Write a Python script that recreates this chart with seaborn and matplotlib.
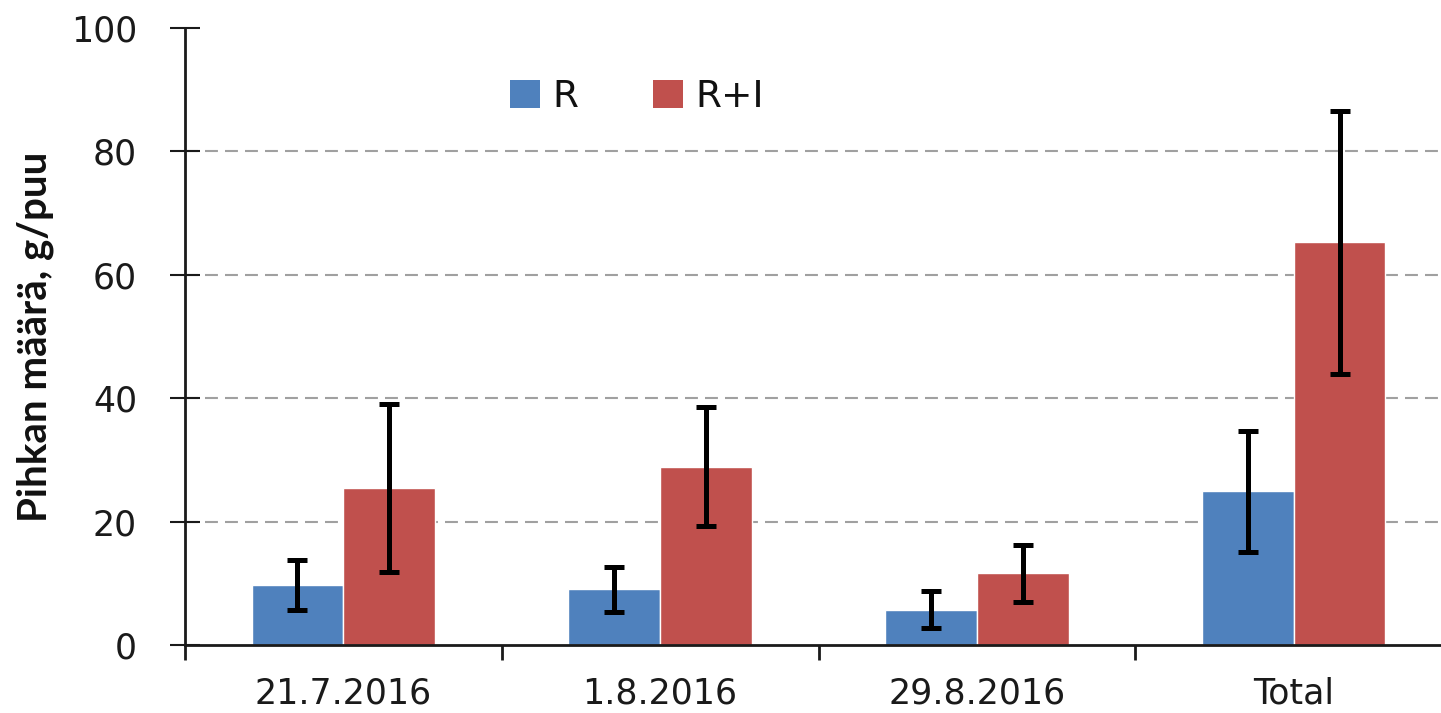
import numpy as np
import pandas as pd
import matplotlib
matplotlib.use("Agg")
import matplotlib.pyplot as plt
import seaborn as sns
from matplotlib.patches import Patch

categories = ["21.7.2016", "1.8.2016", "29.8.2016", "Total"]
series = ["R", "R+I"]
r_values = [9.7, 9.0, 5.7, 24.9]
ri_values = [25.4, 28.9, 11.6, 65.3]
r_err = [4.0, 3.7, 3.0, 9.8]
ri_err = [13.6, 9.6, 4.6, 21.3]
y_ticks = [0, 20, 40, 60, 80, 100]
y_label = "Pihkan määrä, g/puu"
colors = ["#4F81BD", "#C0504D"]

df = pd.DataFrame({
    "cat": categories * 2,
    "series": [series[0]] * 4 + [series[1]] * 4,
    "value": r_values + ri_values,
})

sns.set_style("white")
plt.rcParams["font.family"] = ["DejaVu Sans"]

fig = plt.figure(figsize=(14.41, 7.13), dpi=100)
W, H = 1441, 713
ax = fig.add_axes([185 / W, (H - 645) / H, (1452 - 185) / W, (645 - 28) / H])

sns.barplot(data=df, x="cat", y="value", hue="series", order=categories,
            hue_order=series, palette=colors, width=0.58, errorbar=None,
            saturation=1, ax=ax, legend=False)

errs = [r_err, ri_err]
vals = [r_values, ri_values]
for cont, e, v in zip(ax.containers, errs, vals):
    xs = [b.get_x() + b.get_width() / 2 for b in cont]
    ax.errorbar(xs, v, yerr=e, fmt="none", ecolor="black", elinewidth=3.6,
                capsize=7, capthick=3.6, zorder=5)

ax.set_xlim(-0.5, 3.5)
ax.set_ylim(0, 100)
ax.set_yticks(y_ticks)
ax.set_yticklabels([str(t) for t in y_ticks], fontsize=25, color="#1a1a1a")
for t in y_ticks[1:-1]:
    ax.axhline(t, color="#a0a0a0", linestyle=(0, (6.2, 3.4)), linewidth=1.5, zorder=0)

# group boundary ticks, labels at centers
ax.set_xticks([-0.5, 0.5, 1.5, 2.5, 3.5])
ax.set_xticklabels([])
ax.set_xticks([0, 1, 2, 3], minor=True)
ax.set_xticklabels(categories, minor=True, fontsize=25, color="#1a1a1a")
ax.tick_params(axis="x", which="major", bottom=True, direction="out", length=11,
               width=2, color="#1a1a1a")
ax.tick_params(axis="x", which="minor", bottom=True, length=0, pad=23)
ax.tick_params(axis="y", left=True, direction="inout", length=21, width=1.5,
               color="#1a1a1a", pad=24)
ax.set_xlabel("")
ax.set_ylabel(y_label, fontsize=29, fontweight="bold", family="Lato", labelpad=12,
              color="#111111")

for s in ["top", "right"]:
    ax.spines[s].set_visible(False)
for s in ["left", "bottom"]:
    ax.spines[s].set_linewidth(2)
    ax.spines[s].set_color("#1a1a1a")

handles = [Patch(facecolor=c, edgecolor="none") for c in colors]
leg = fig.legend(handles, series, loc="center left", bbox_to_anchor=(510 / W, 1 - 97 / H),
                 ncol=2, frameon=False, fontsize=27, handlelength=0.8, handleheight=0.8,
                 handletextpad=0.32, columnspacing=2.0, borderpad=0, borderaxespad=0)
for t in leg.get_texts():
    t.set_color("#111111")

fig.savefig("out.png", dpi=100)
